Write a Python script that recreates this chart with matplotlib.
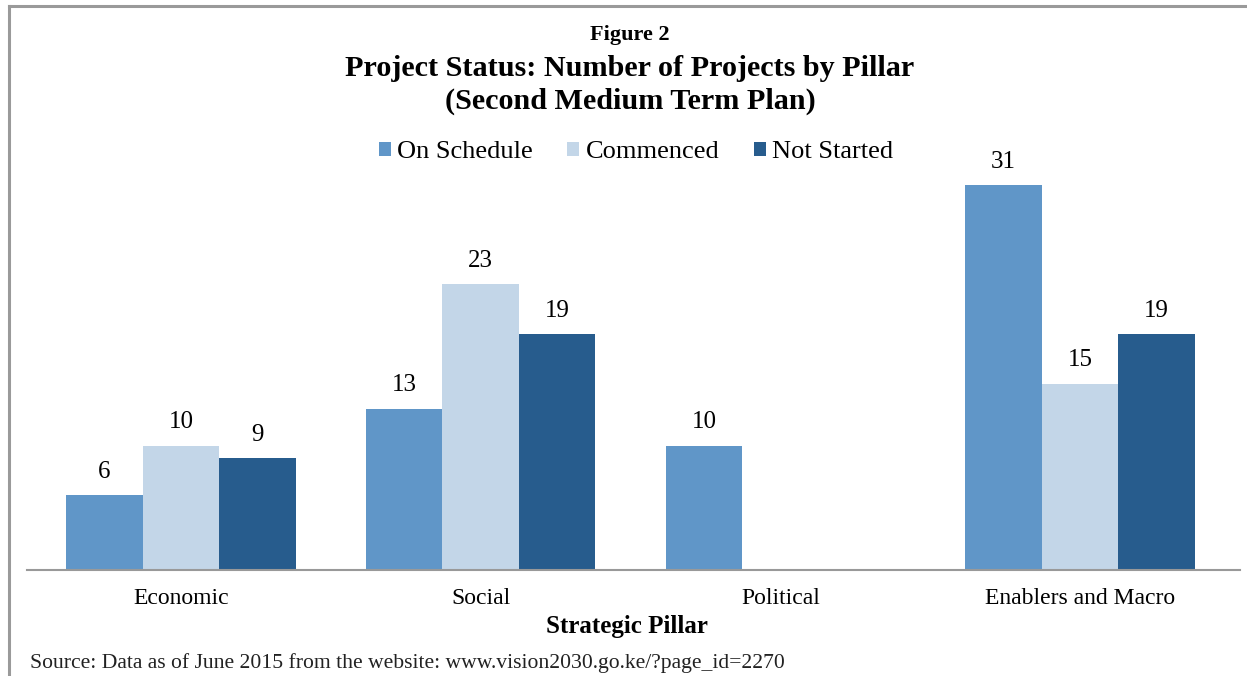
import matplotlib
matplotlib.use("Agg")
import matplotlib.pyplot as plt
import numpy as np
from matplotlib.lines import Line2D

categories = ["Economic", "Social", "Political", "Enablers and Macro"]
series_names = ["On Schedule", "Commenced", "Not Started"]
on_schedule = [6, 13, 10, 31]
commenced = [10, 23, 0, 15]
not_started = [9, 19, 0, 19]
colors = ["#6096C8", "#C3D6E8", "#275C8D"]

plt.rcParams['font.family'] = ['Liberation Serif', 'DejaVu Serif']

W, H = 1247, 676
fig = plt.figure(figsize=(W / 100, H / 100), dpi=100)

def fx(px):
    return px / W

def fy(py):
    return 1 - py / H

ax_left, ax_right = 27, 1240
ax_bottom, ax_top = 570, 170
ax = fig.add_axes([fx(ax_left), fy(ax_bottom), fx(ax_right - ax_left), (ax_bottom - ax_top) / H])

x = np.arange(len(categories))
bw = 0.255
all_series = [on_schedule, commenced, not_started]
for i, (name, vals, c) in enumerate(zip(series_names, all_series, colors)):
    pos = x + (i - 1) * bw
    ax.bar(pos, vals, width=bw, color=c, label=name, linewidth=0)
    for p, v in zip(pos, vals):
        if v > 0:
            ax.text(p, v + 1.0, str(v), ha='center', va='bottom', fontsize=18, color='black')

ax.set_xlim(-0.514, 3.534)
ax.set_ylim(0, (ax_bottom - ax_top) / 12.42)
ax.set_yticks([])
ax.set_xticks(x)
ax.set_xticklabels(categories, fontsize=17)
ax.tick_params(axis='x', length=0, pad=13)
for s in ['top', 'right', 'left']:
    ax.spines[s].set_visible(False)
ax.spines['bottom'].set_color('#999999')
ax.spines['bottom'].set_linewidth(1.5)

# Titles
fig.text(fx(630), fy(35), "Figure 2", ha='center', va='center', fontsize=16, fontweight='bold')
fig.text(fx(630), fy(68), "Project Status: Number of Projects by Pillar", ha='center', va='center',
         fontsize=21.7, fontweight='bold')
fig.text(fx(630), fy(101), "(Second Medium Term Plan)", ha='center', va='center',
         fontsize=21.7, fontweight='bold')
fig.text(fx(627), fy(627), "Strategic Pillar", ha='center', va='center', fontsize=18, fontweight='bold')
fig.text(fx(30), fy(663), "Source: Data as of June 2015 from the website: www.vision2030.go.ke/?page_id=2270",
         ha='left', va='center', fontsize=15.6, color='#222222')

# Legend
fig.legend(loc='center', bbox_to_anchor=(fx(636), fy(152)), ncol=3, frameon=False,
           fontsize=19, handlelength=0.45, handleheight=0.45, handletextpad=0.25,
           columnspacing=1.3)

# Border
fig.add_artist(Line2D([fx(9), fx(9)], [fy(6), 0], color='#9a9a9a', linewidth=2.2, transform=fig.transFigure))
fig.add_artist(Line2D([fx(9), 1], [fy(6), fy(6)], color='#9a9a9a', linewidth=2.2, transform=fig.transFigure))

fig.savefig("out.png", dpi=100)
